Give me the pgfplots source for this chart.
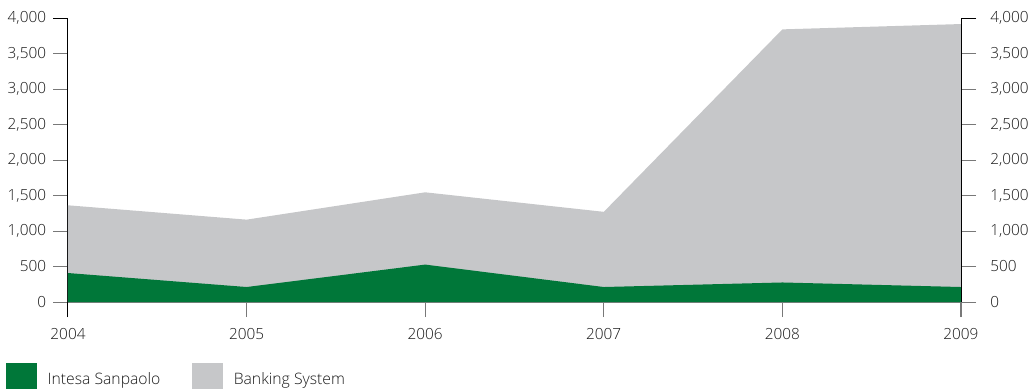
\documentclass[border=0pt]{standalone}
\usepackage{pgfplots}
\pgfplotsset{compat=1.18}
\usepackage{fontspec}
\setmainfont{Open Sans}[UprightFont={* Light}]
\definecolor{isgreen}{RGB}{0,119,57}
\definecolor{bsgray}{RGB}{198,199,201}
\definecolor{txt}{RGB}{25,25,25}
\definecolor{tickgray}{RGB}{120,120,120}
\begin{document}
\fontsize{11.5}{13}\selectfont
\begin{tikzpicture}
\path[use as bounding box] (-51pt,-65.25pt) rectangle (722.25pt,226.5pt);
\pgfplotsset{
  common/.style={
    at={(0,0)}, anchor=origin,
    width=669.75pt, height=213pt, scale only axis,
    xmin=2004, xmax=2009, ymin=0, ymax=4000,
    ytick={0,500,...,4000},
    tick align=outside,
    major tick length=11.25pt,
    every tick/.style={color=tickgray, line width=0.75pt},
    /pgf/number format/1000 sep={,},
    /pgf/number format/assume math mode=true,
    ticklabel style={font=\fontsize{11.5}{13}\selectfont, text=txt},
    extra y ticks={4000}, extra y tick labels={},
    extra y tick style={every tick/.style={color=black, line width=0.75pt}},
  }
}
\begin{axis}[common,
  axis x line*=bottom, axis y line*=left,
  x axis line style={draw=tickgray, line width=0.75pt, -},
  y axis line style={draw=black, line width=0.75pt, -},
  xtick={2004,...,2009},
  xticklabel={\pgfmathprintnumber[1000 sep={}]{\tick}},
  xticklabel style={yshift=-4.4pt},
  yticklabel style={xshift=-1.2pt},
  extra x ticks={2004}, extra x tick labels={},
  extra x tick style={every tick/.style={color=black, line width=0.75pt}},
  legend style={at={(axis description cs:0,0)}, anchor=north west, xshift=-46.5pt, yshift=-45.75pt,
    draw=none, fill=none, legend columns=2, inner sep=0pt, outer sep=0pt,
    font=\fontsize{11.8}{13}\selectfont, text=txt,
    /tikz/every odd column/.append style={column sep=6pt},
    /tikz/every even column/.append style={column sep=21.75pt},
    cells={anchor=base west, inner sep=0pt}},
  legend image code/.code={\fill[#1] (0pt,-3.75pt) rectangle (23.25pt,15.75pt);},
]
\addplot[draw=none, fill=bsgray, forget plot] coordinates {(2004,0) (2004,1362) (2005,1160) (2006,1545) (2007,1270) (2008,3840) (2009,3915) (2009,0)} -- cycle;
\addplot[draw=none, fill=isgreen] coordinates {(2004,0) (2004,408) (2005,211) (2006,527) (2007,211) (2008,275) (2009,211) (2009,0)} -- cycle;
\addlegendentry{Intesa Sanpaolo}
\addlegendimage{draw=none, fill=bsgray}
\addlegendentry{Banking System}
\end{axis}
\begin{axis}[common,
  axis y line*=right, axis x line*=bottom,
  x axis line style={draw=none},
  xtick={2009}, xticklabels={},
  xtick style={every tick/.style={color=black, line width=0.75pt}},
  y axis line style={draw=black, line width=0.75pt, -},
  yticklabel style={xshift=6.7pt, anchor=west},
]
\addplot[draw=none, forget plot] coordinates {(2004,0) (2009,4000)};
\end{axis}
\end{tikzpicture}
\end{document}
